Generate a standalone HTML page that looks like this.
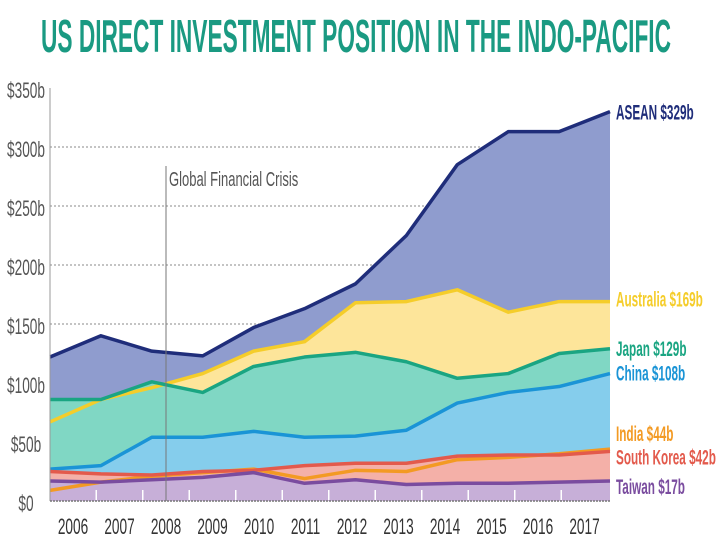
<!DOCTYPE html>
<html><head><meta charset="utf-8"><style>
body{margin:0;background:#fff;}
svg text{font-family:"Liberation Sans",sans-serif;}
</style></head><body>
<svg width="720" height="540" viewBox="0 0 720 540">
<text x="356" y="52" text-anchor="middle" font-size="46" font-weight="bold" fill="#1a9a82" transform="translate(356 0) scale(0.7 1) translate(-356 0)" textLength="900" lengthAdjust="spacingAndGlyphs">US DIRECT INVESTMENT POSITION IN THE INDO-PACIFIC</text>
<g id="grid"></g>
<g id="areas"></g>
<g id="axes"></g>
</svg>
<script>
const years=["2006","2007","2008","2009","2010","2011","2012","2013","2014","2015","2016","2017"];
const yTicks=[0,50,100,150,200,250,300,350];
const seriesNames=["ASEAN","Australia","Japan","China","India","South Korea","Taiwan"];
const asean=[122,140,127,123,147,163,184,225,285,313,313,330];
const australia=[67,86,96,108,127,135,168,169,179,160,169,169];
const japan=[86,86,101,92,114,122,126,118,104,108,125,129];
const china=[27,30,54,54,59,54,55,60,83,92,97,108];
const india=[9,16,21,24,27,19,26,25,35,37,40,44];
const southKorea=[25,23,22,25,26,30,32,32,38,39,39,42];
const taiwan=[17,16,18,20,24,15,18,14,15,15,16,17];
const labels=["ASEAN $329b","Australia $169b","Japan $129b","China $108b","India $44b","South Korea $42b","Taiwan $17b"];
const NS="http://www.w3.org/2000/svg";
const x0=50,x1=610,y0=501,yPer=1.18;
const X=i=>x0+i*(x1-x0)/(years.length-1);
const Y=v=>y0-v*yPer;
const LX=i=>73+i*46.5;
function mk(t,a,p){const e=document.createElementNS(NS,t);for(const k in a)e.setAttribute(k,a[k]);p.appendChild(e);return e;}
const grid=document.getElementById('grid');
yTicks.forEach(v=>{
  if(v>0&&v<350){const l=mk('line',{x1:x0,x2:x1,y1:Y(v),y2:Y(v),stroke:'#888','stroke-dasharray':'2,2','stroke-width':1},grid);
  
  }
});
const areas=document.getElementById('areas');
const defs=[[asean,'#8f9cce','#1f2d7a'],[australia,'#fde59a','#f5cd2a'],[japan,'#80d7c4','#1aa582'],[china,'#85cdec','#1a94d6'],[india,'#f7c08b','#f39a23'],[southKorea,'#f4b0a8','#e35a4c'],[taiwan,'#c7afd8','#7a4c9f']];
defs.forEach((d,si)=>{
  const vals=d[0];
  let pts=vals.map((v,i)=>X(i)+','+Y(v)).join(' ');
  const poly=mk('polygon',{points:X(0)+','+y0+' '+pts+' '+X(vals.length-1)+','+y0,fill:d[1]},areas);
  
  
});
defs.forEach((d,si)=>{
  const vals=d[0];
  const pl=mk('polyline',{points:vals.map((v,i)=>X(i)+','+Y(v)).join(' '),fill:'none',stroke:d[2],'stroke-width':3.5,'stroke-linejoin':'round'},areas);
  
  
});
const ax=document.getElementById('axes');
mk('line',{x1:x0,x2:x0,y1:88,y2:y0,stroke:'#999','stroke-width':1},ax);
mk('line',{x1:x0,x2:x1,y1:y0,y2:y0,stroke:'#777','stroke-width':1.5,'stroke-dasharray':'2,1'},ax);
for(let i=1;i<years.length;i++){
  const tx=(LX(i-1)+LX(i))/2;
  mk('line',{x1:tx,x2:tx,y1:490,y2:500,stroke:'#fff','stroke-width':1.5},ax);
}
yTicks.forEach(v=>{
  const t=mk('text',{x:26,y:Y(v)+10,'text-anchor':'middle','font-size':22,fill:'#555',transform:`translate(26 0) scale(0.62 1) translate(-26 0)`},ax);
  t.textContent='$'+v+(v?'b':'');
  
  
});
years.forEach((yr,i)=>{
  const cx=LX(i);
  const t=mk('text',{x:cx,y:534,'text-anchor':'middle','font-size':22,fill:'#333',transform:`translate(${cx} 0) scale(0.62 1) translate(${-cx} 0)`},ax);
  t.textContent=yr;
  
  
});
const gfc=mk('line',{x1:166,x2:166,y1:166,y2:y0,stroke:'#777','stroke-width':1},ax);


const gt=mk('text',{x:169,y:186,'font-size':20,fill:'#555',transform:'translate(169 0) scale(0.65 1) translate(-169 0)'},ax);
gt.textContent='Global Financial Crisis';


const lastVals=[asean,australia,japan,china,india,southKorea,taiwan].map(a=>a[a.length-1]);
const labelOffsets=[8,5,7,7,-8,13,13];
labels.forEach((lb,i)=>{
  const ly=Y(lastVals[i])+labelOffsets[i];
  const t=mk('text',{x:616,y:ly,'font-size':21,'font-weight':'bold',fill:defs[i][2],transform:`translate(616 0) scale(0.56 1) translate(-616 0)`},ax);
  t.textContent=lb;
  
  
});
</script>
</body></html>
